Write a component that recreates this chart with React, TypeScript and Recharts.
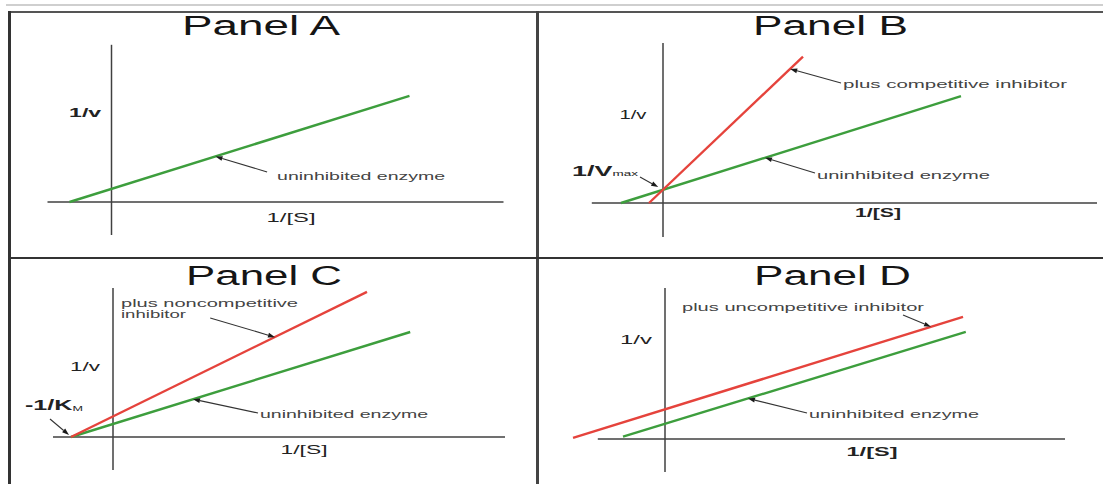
import React from 'react';
import { LineChart, Line, XAxis, YAxis, ReferenceLine, ReferenceDot } from 'recharts';

// ---- Lineweaver–Burk plots: x = 1/[S], y = 1/v (arbitrary units) ----
const panelTitles = ['Panel A', 'Panel B', 'Panel C', 'Panel D'];
const xAxisTitle = '1/[S]';
const yAxisTitle = '1/v';
const uninhibitedLabel = 'uninhibited enzyme';

const uninhibitedA = [{ x: -1.05, y: 0 }, { x: 7.45, y: 8.85 }];

const uninhibitedB = [{ x: -1.05, y: 0 }, { x: 7.45, y: 8.9 }];
const competitiveB = [{ x: -0.35, y: 0 }, { x: 3.5, y: 12.2 }];

const uninhibitedC = [{ x: -1.05, y: 0 }, { x: 7.43, y: 8.75 }];
const noncompetitiveC = [{ x: -1.05, y: 0 }, { x: 6.35, y: 12.1 }];

const uninhibitedD = [{ x: -1.05, y: 0.2 }, { x: 7.52, y: 8.92 }];
const uncompetitiveD = [{ x: -2.3, y: 0.1 }, { x: 7.45, y: 10.17 }];

// drawn extent of the crossing axes in each panel
const axisExtentA = { x: [-1.6, 9.8], y: [-2.75, 13.1] };
const axisExtentB = { x: [-1.78, 10.85], y: [-2.83, 13.33] };
const axisExtentC = { x: [-1.5, 9.8], y: [-2.75, 12.42] };
const axisExtentD = { x: [-1.68, 10.0], y: [-2.75, 12.58] };

// ---- layout ----
const FONT = '"Liberation Sans", Arial, Helvetica, sans-serif';
const KX = 40; // px per unit of 1/[S]
const KY = 12; // px per unit of 1/v
const GREEN = '#3d9e3d';
const RED = '#e5433c';
const AXIS = '#404040';
const INK = '#444';
const LABEL_INK = '#222';

type Pt = [number, number];
type Note = {
  at: Pt;
  text: string;
  sub?: string;
  w: number;
  size?: number;
  bold?: boolean;
  center?: boolean;
  ink?: string;
};
type Arrow = { from: Pt; to: Pt };
type Panel = {
  box: { left: number; top: number; width: number; height: number };
  origin: Pt;
  title: { text: string; left: number; width: number; baseline: number };
  axes: { x: number[]; y: number[] };
  series: { data: { x: number; y: number }[]; color: string }[];
  notes: Note[];
  arrows: Arrow[];
};

const panels: Panel[] = [
  {
    box: { left: 11, top: 13, width: 525, height: 244 },
    origin: [111.5, 202],
    title: { text: panelTitles[0], left: 182, width: 158, baseline: 35 },
    axes: axisExtentA,
    series: [{ data: uninhibitedA, color: GREEN }],
    notes: [
      { at: [-0.66, 7.42], text: yAxisTitle, w: 32, size: 12, bold: true, center: true, ink: LABEL_INK },
      { at: [4.49, -1.33], text: xAxisTitle, w: 49, size: 13, center: true, ink: LABEL_INK },
      { at: [4.14, 2.17], text: uninhibitedLabel, w: 168, size: 11.5 },
    ],
    arrows: [{ from: [3.89, 2.5], to: [2.6, 3.8] }],
  },
  {
    box: { left: 539, top: 13, width: 564, height: 244 },
    origin: [663, 203],
    title: { text: panelTitles[1], left: 753, width: 155, baseline: 35 },
    axes: axisExtentB,
    series: [
      { data: uninhibitedB, color: GREEN },
      { data: competitiveB, color: RED },
    ],
    notes: [
      { at: [-0.75, 7.33], text: yAxisTitle, w: 27, size: 12, center: true, ink: LABEL_INK },
      { at: [-2.275, 2.75], text: '1/V', sub: 'max', w: 66, size: 15, bold: true, ink: LABEL_INK },
      { at: [5.375, -0.75], text: xAxisTitle, w: 46, size: 13, bold: true, center: true, ink: LABEL_INK },
      { at: [4.5, 9.92], text: 'plus competitive inhibitor', w: 224, size: 11.5 },
      { at: [3.85, 2.33], text: uninhibitedLabel, w: 173, size: 11.5 },
    ],
    arrows: [
      { from: [-0.575, 2.17], to: [-0.12, 1.33] },
      { from: [4.45, 10.0], to: [3.18, 11.17] },
      { from: [3.8, 2.5], to: [2.55, 3.77] },
    ],
  },
  {
    box: { left: 11, top: 259, width: 525, height: 225 },
    origin: [113, 437],
    title: { text: panelTitles[2], left: 186, width: 156, baseline: 285 },
    axes: axisExtentC,
    series: [
      { data: uninhibitedC, color: GREEN },
      { data: noncompetitiveC, color: RED },
    ],
    notes: [
      { at: [-0.7, 5.83], text: yAxisTitle, w: 30, size: 12, center: true, ink: LABEL_INK },
      { at: [-2.2, 2.67], text: '-1/K', sub: 'M', w: 58, size: 15, bold: true, ink: LABEL_INK },
      { at: [4.775, -1.08], text: xAxisTitle, w: 47, size: 13, center: true, ink: LABEL_INK },
      { at: [0.2, 11.1], text: 'plus noncompetitive', w: 177, size: 10 },
      { at: [0.2, 10.2], text: 'inhibitor', w: 65, size: 10 },
      { at: [3.675, 1.92], text: uninhibitedLabel, w: 168, size: 11.5 },
    ],
    arrows: [
      { from: [-1.575, 1.5], to: [-1.1, 0.17] },
      { from: [2.43, 9.92], to: [4.05, 8.32] },
      { from: [3.625, 2.0], to: [2.0, 3.15] },
    ],
  },
  {
    box: { left: 539, top: 259, width: 564, height: 225 },
    origin: [665, 439],
    title: { text: panelTitles[3], left: 754, width: 157, baseline: 285 },
    axes: axisExtentD,
    series: [
      { data: uninhibitedD, color: GREEN },
      { data: uncompetitiveD, color: RED },
    ],
    notes: [
      { at: [-0.725, 8.25], text: yAxisTitle, w: 32, size: 12, center: true, ink: LABEL_INK },
      { at: [5.175, -1.08], text: xAxisTitle, w: 51, size: 13, bold: true, center: true, ink: LABEL_INK },
      { at: [0.425, 11.0], text: 'plus uncompetitive inhibitor', w: 242, size: 11.5 },
      { at: [3.6, 2.08], text: uninhibitedLabel, w: 170, size: 11.5 },
    ],
    arrows: [
      { from: [5.95, 10.33], to: [6.65, 9.35] },
      { from: [3.55, 2.17], to: [2.075, 3.38] },
    ],
  },
];

// ---- custom shapes ----
function noteShape(n: Note) {
  return (p: any) => {
    const size = n.size ?? 12;
    const x = n.center ? p.cx - n.w / 2 : p.cx;
    return (
      <text
        x={x}
        y={p.cy}
        textLength={n.w}
        lengthAdjust="spacingAndGlyphs"
        dominantBaseline="central"
        fontFamily={FONT}
        fontSize={size}
        fontWeight={n.bold ? 700 : 400}
        fill={n.ink ?? INK}
      >
        {n.text}
        {n.sub ? (
          <tspan fontSize={size * 0.5} dy={3} fontWeight={400}>
            {n.sub}
          </tspan>
        ) : null}
      </text>
    );
  };
}

function arrowShape(p: any) {
  const { x1, y1, x2, y2 } = p;
  const a = Math.atan2(y2 - y1, x2 - x1);
  const len = 7;
  const half = 2.4;
  const bx = x2 - len * Math.cos(a);
  const by = y2 - len * Math.sin(a);
  const nx = -Math.sin(a) * half;
  const ny = Math.cos(a) * half;
  return (
    <g>
      <line x1={x1} y1={y1} x2={bx} y2={by} stroke="#333" strokeWidth={1.1} />
      <polygon
        points={`${x2},${y2} ${bx + nx},${by + ny} ${bx - nx},${by - ny}`}
        fill="#1a1a1a"
      />
    </g>
  );
}

function PanelChart({ panel }: { panel: Panel }) {
  const { box, origin } = panel;
  const xDomain = [(box.left - origin[0]) / KX, (box.left + box.width - origin[0]) / KX];
  const yDomain = [(origin[1] - box.top - box.height) / KY, (origin[1] - box.top) / KY];
  return (
    <div style={{ position: 'absolute', left: box.left, top: box.top }}>
      <LineChart
        width={box.width}
        height={box.height}
        margin={{ top: 0, right: 0, bottom: 0, left: 0 }}
      >
        <XAxis type="number" dataKey="x" domain={xDomain} allowDataOverflow hide height={0} />
        <YAxis type="number" dataKey="y" domain={yDomain} allowDataOverflow hide width={0} />
        <ReferenceLine
          segment={[{ x: panel.axes.x[0], y: 0 }, { x: panel.axes.x[1], y: 0 }]}
          stroke={AXIS}
          strokeWidth={1.5}
          ifOverflow="visible"
        />
        <ReferenceLine
          segment={[{ x: 0, y: panel.axes.y[0] }, { x: 0, y: panel.axes.y[1] }]}
          stroke={AXIS}
          strokeWidth={1.5}
          ifOverflow="visible"
        />
        {panel.series.map((s, i) => (
          <Line
            key={i}
            data={s.data}
            dataKey="y"
            type="linear"
            stroke={s.color}
            strokeWidth={2.4}
            dot={false}
            activeDot={false}
            isAnimationActive={false}
          />
        ))}
        {panel.arrows.map((a, i) => (
          <ReferenceLine
            key={`a${i}`}
            segment={[{ x: a.from[0], y: a.from[1] }, { x: a.to[0], y: a.to[1] }]}
            shape={arrowShape}
            ifOverflow="visible"
          />
        ))}
        {panel.notes.map((n, i) => (
          <ReferenceDot
            key={`n${i}`}
            x={n.at[0]}
            y={n.at[1]}
            r={0}
            shape={noteShape(n)}
            ifOverflow="visible"
          />
        ))}
      </LineChart>
    </div>
  );
}

export default function App() {
  return (
    <div
      style={{
        position: 'absolute',
        left: 0,
        top: 0,
        width: 1103,
        height: 484,
        background: '#fff',
        overflow: 'hidden',
      }}
    >
      {/* frame */}
      <div style={{ position: 'absolute', left: 6, top: 4, width: 1097, height: 2, background: '#cfcfcf' }} />
      <div style={{ position: 'absolute', left: 8, top: 11, width: 1095, height: 2, background: '#555' }} />
      <div style={{ position: 'absolute', left: 8, top: 11, width: 3, height: 473, background: '#333' }} />
      <div style={{ position: 'absolute', left: 536, top: 11, width: 3, height: 473, background: '#444' }} />
      <div style={{ position: 'absolute', left: 8, top: 257, width: 1095, height: 2, background: '#333' }} />

      {panels.map((p, i) => (
        <PanelChart key={i} panel={p} />
      ))}

      {/* panel titles */}
      <svg
        width={1103}
        height={484}
        style={{ position: 'absolute', left: 0, top: 0, pointerEvents: 'none' }}
      >
        {panels.map((p, i) => (
          <text
            key={i}
            x={p.title.left}
            y={p.title.baseline}
            textLength={p.title.width}
            lengthAdjust="spacingAndGlyphs"
            fontFamily={FONT}
            fontSize={27}
            fill="#151515"
          >
            {p.title.text}
          </text>
        ))}
      </svg>
    </div>
  );
}
